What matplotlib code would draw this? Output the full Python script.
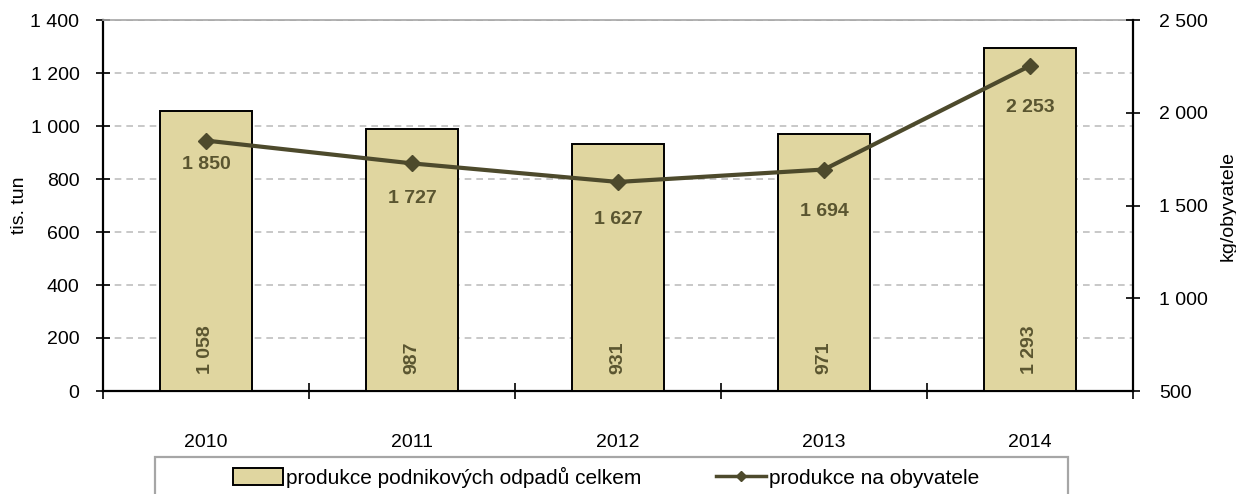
import matplotlib.pyplot as plt
from matplotlib.patches import Rectangle
from matplotlib.ticker import FuncFormatter, FixedLocator
import numpy as np

plt.rcParams.update({
    'font.family': ['Liberation Sans', 'DejaVu Sans'],
    'font.size': 14,
})

# Data
years = ['2010', '2011', '2012', '2013', '2014']
total_waste = [1058, 987, 931, 971, 1293]          # tis. tun
per_capita = [1850, 1727, 1627, 1694, 2253]        # kg/obyvatele

# vertical offset (points) of the per-capita labels below the markers
label_offsets = [-17, -25, -27, -30, -30]

bar_color = '#E0D6A0'
line_color = '#4D4A2C'
label_color = '#5A5530'


def space_thousands(v, pos=None):
    return f"{int(round(v)):,}".replace(',', ' ')


fig = plt.figure(figsize=(12.36, 4.94), dpi=100)
ax = fig.add_axes([103/1236, 1 - 391/494, 1030/1236, 371/494])
ax2 = ax.twinx()

x = np.arange(len(years))
ax.bar(x, total_waste, width=0.45, color=bar_color, edgecolor='black',
       linewidth=1.4, zorder=3, label='produkce podnikových odpadů celkem')
ax.set_xlim(-0.5, len(years) - 0.5)
ax.set_ylim(0, 1400)
ax.yaxis.set_major_locator(FixedLocator(np.arange(0, 1401, 200)))
ax.yaxis.set_major_formatter(FuncFormatter(space_thousands))
ax.grid(axis='y', color='#BFBFBF', linestyle=(0, (4, 3)), linewidth=1.2, zorder=0)
ax.set_axisbelow(True)

# category ticks between bars, labels centred
ax.set_xticks(np.arange(-0.5, len(years), 1.0))
ax.set_xticklabels([])
ax.set_xticks(x, minor=True)
ax.set_xticklabels(years, minor=True)
ax.tick_params(axis='x', which='major', direction='inout', length=12, width=1.2)
ax.tick_params(axis='x', which='minor', length=0, pad=31, labelsize=14)
ax.tick_params(axis='y', direction='inout', length=10, width=1.2, pad=12, labelsize=14)

for side in ['left', 'bottom']:
    ax.spines[side].set_linewidth(1.6)
ax.spines['top'].set_color('#A6A6A6')
ax.spines['top'].set_linewidth(1.2)
ax.spines['right'].set_visible(False)
ax.set_ylabel('tis. tun', fontsize=14, labelpad=2)

# bar value labels (rotated, near bottom)
for xi, v in zip(x, total_waste):
    ax.annotate(space_thousands(v), (xi, 0), xytext=(0, 12), textcoords='offset points',
                rotation=90, ha='center', va='bottom', fontsize=14,
                fontweight='bold', color=label_color, zorder=5)

# line on secondary axis
ax2.plot(x, per_capita, color=line_color, linewidth=3, marker='D', markersize=8,
         zorder=4, label='produkce na obyvatele')
ax2.set_ylim(500, 2500)
ax2.yaxis.set_major_locator(FixedLocator(np.arange(500, 2501, 500)))
ax2.yaxis.set_major_formatter(FuncFormatter(space_thousands))
ax2.tick_params(axis='y', direction='inout', length=10, width=1.2, pad=14, labelsize=14)
ax2.spines['right'].set_linewidth(1.6)
ax2.spines['top'].set_visible(False)
ax2.spines['left'].set_visible(False)
ax2.spines['bottom'].set_visible(False)
ax2.set_ylabel('kg/obyvatele', fontsize=14, labelpad=8)

for xi, v, off in zip(x, per_capita, label_offsets):
    ax2.annotate(space_thousands(v), (xi, v), xytext=(0, off), textcoords='offset points',
                 ha='center', va='center', fontsize=14, fontweight='bold',
                 color=label_color, zorder=5)

# legend with frame running off the bottom
fig.patches.append(Rectangle((155/1236, -0.05), 913/1236, 0.05 + 37/494,
                             transform=fig.transFigure, fill=False,
                             edgecolor='#A6A6A6', linewidth=1.6))
h1, l1 = ax.get_legend_handles_labels()
h2, l2 = ax2.get_legend_handles_labels()
leg = fig.legend(h1 + h2, l1 + l2, loc='center', bbox_to_anchor=(606/1236, 17/494),
                 ncol=2, frameon=False, fontsize=15, handlelength=2.4, handleheight=0.85,
                 handletextpad=0.15, columnspacing=3.6)
leg.legend_handles[1].set_markersize(5)
leg.legend_handles[1].set_linewidth(2.5)

fig.savefig('out.png', dpi=100)
